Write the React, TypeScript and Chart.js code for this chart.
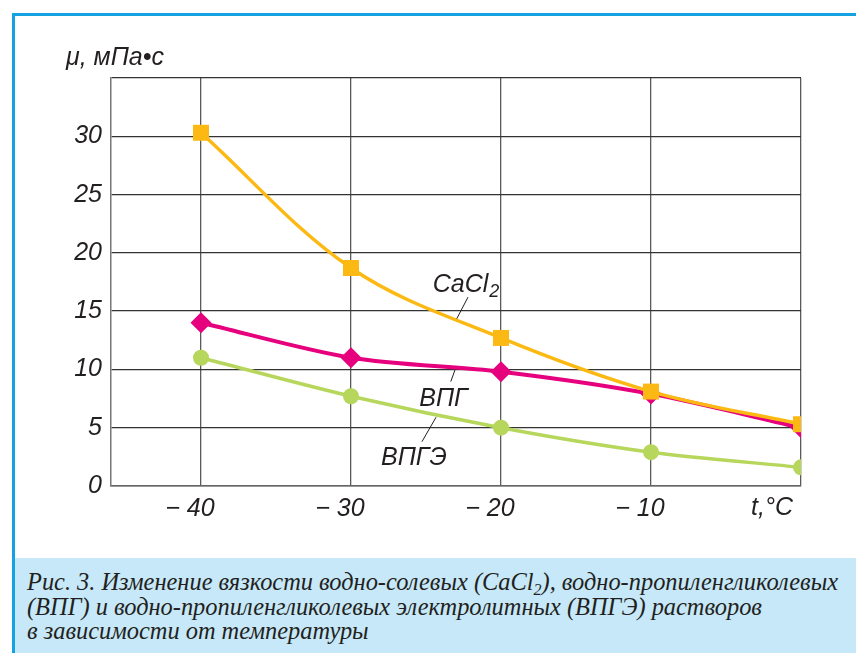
import React, { useEffect, useRef } from "react";
import { Chart, registerables } from "chart.js";

Chart.register(...registerables);

const temperatures = [-40, -30, -20, -10, 0];
const cacl2Values = [30.3, 18.7, 12.7, 8.1, 5.3];
const vpgValues = [14.0, 11.0, 9.8, 7.9, 5.0];
const vpgeValues = [11.0, 7.7, 5.0, 2.9, 1.6];

const xTicks = [-40, -30, -20, -10, 0];
const yTicks = [0, 5, 10, 15, 20, 25, 30, 35];

const yAxisTitle = "μ, мПа•с";
const xAxisTitle = "t,°C";

const seriesLabels = ["CaCl2", "ВПГ", "ВПГЭ"];

// annotation anchors in data units: text position and leader line ends
const annotations = [
  { main: "CaCl", sub: "2", tx: -24.55, ty: 16.6, l: [-22.2, 16.2, -22.95, 14.35] },
  { main: "ВПГ", sub: "", tx: -25.45, ty: 6.9, l: [-23.07, 9.95, -23.35, 8.95] },
  { main: "ВПГЭ", sub: "", tx: -28.0, ty: 1.8, l: [-24.33, 5.9, -25.27, 3.8] },
];

const ORANGE = "#fdb913";
const MAGENTA = "#e6007e";
const GREEN = "#b7d65c";

const LABEL_FONT = "'Liberation Sans', Arial, sans-serif";

const toXY = (ys: number[]) => temperatures.map((t, i) => ({ x: t, y: ys[i] }));

const annotationPlugin = {
  id: "annots",
  afterDraw(chart: any) {
    const { ctx, scales } = chart;
    const xs = scales.x;
    const ys = scales.y;
    ctx.save();
    ctx.fillStyle = "#231f20";
    ctx.strokeStyle = "#231f20";
    ctx.lineWidth = 1;
    for (const a of annotations) {
      ctx.beginPath();
      ctx.moveTo(xs.getPixelForValue(a.l[0]), ys.getPixelForValue(a.l[1]));
      ctx.lineTo(xs.getPixelForValue(a.l[2]), ys.getPixelForValue(a.l[3]));
      ctx.stroke();
      const px = xs.getPixelForValue(a.tx);
      const py = ys.getPixelForValue(a.ty);
      ctx.font = `italic 25px ${LABEL_FONT}`;
      ctx.textAlign = "left";
      ctx.textBaseline = "alphabetic";
      ctx.fillText(a.main, px, py);
      if (a.sub) {
        const w = ctx.measureText(a.main).width;
        ctx.font = `italic 18px ${LABEL_FONT}`;
        ctx.fillText(a.sub, px + w + 1, py + 5);
      }
    }
    // axis titles
    ctx.font = `italic 25px ${LABEL_FONT}`;
    ctx.textAlign = "left";
    ctx.fillText(yAxisTitle, 66, 65);
    ctx.fillText(xAxisTitle, 751, 515);
    ctx.restore();
  },
};

export default function App() {
  const ref = useRef<HTMLCanvasElement | null>(null);

  useEffect(() => {
    if (!ref.current) return;
    const chart = new Chart(ref.current, {
      type: "line",
      data: {
        datasets: [
          {
            label: seriesLabels[0],
            data: toXY(cacl2Values),
            borderColor: ORANGE,
            backgroundColor: ORANGE,
            borderWidth: 3.5,
            pointStyle: "rect",
            pointRadius: 11.3,
            pointBorderWidth: 0,
            tension: 0.35,
          },
          {
            label: seriesLabels[1],
            data: toXY(vpgValues),
            borderColor: MAGENTA,
            backgroundColor: MAGENTA,
            borderWidth: 4,
            pointStyle: "rectRot",
            pointRadius: 10.5,
            pointBorderWidth: 0,
            tension: 0.3,
          },
          {
            label: seriesLabels[2],
            data: toXY(vpgeValues),
            borderColor: GREEN,
            backgroundColor: GREEN,
            borderWidth: 3.5,
            pointStyle: "circle",
            pointRadius: 8,
            pointBorderWidth: 0,
            tension: 0.3,
          },
        ],
      },
      options: {
        responsive: false,
        animation: false,
        events: [],
        layout: { padding: { left: 0, top: 78, right: 55, bottom: 0 } },
        plugins: { legend: { display: false }, tooltip: { enabled: false } },
        scales: {
          x: {
            type: "linear",
            min: -46,
            max: 0,
            afterBuildTicks: (s: any) => {
              s.ticks = xTicks.map((v) => ({ value: v }));
            },
            afterFit: (s: any) => {
              s.height = 167;
            },
            grid: { color: "#5a5a5a", lineWidth: 1.3, drawTicks: false },
            border: { display: true, color: "#666", width: 1.5 },
            ticks: {
              padding: 8,
              labelOffset: -11,
              color: "#231f20",
              font: { family: LABEL_FONT, size: 25, style: "italic" },
              callback: (v: any) => (v === 0 ? "" : "− " + Math.abs(v)),
            },
          },
          y: {
            type: "linear",
            min: 0,
            max: 35,
            afterBuildTicks: (s: any) => {
              s.ticks = yTicks.map((v) => ({ value: v }));
            },
            afterFit: (s: any) => {
              s.width = 111;
            },
            grid: { color: "#333", lineWidth: 1.3, drawTicks: false },
            border: { display: true, color: "#777", width: 1.5 },
            ticks: {
              padding: 9,
              color: "#231f20",
              font: { family: LABEL_FONT, size: 25, style: "italic" },
              callback: (v: any) => (v === 35 ? "" : String(v)),
            },
          },
        },
      },
      plugins: [annotationPlugin],
    });
    return () => chart.destroy();
  }, []);

  return (
    <div
      style={{
        position: "fixed",
        left: 0,
        top: 0,
        width: 856,
        height: 653,
        background: "#fff",
        overflow: "hidden",
      }}
    >
      <div
        style={{
          position: "absolute",
          left: 12,
          top: 13,
          width: 900,
          height: 700,
          borderLeft: "3px solid #14a3e0",
          borderTop: "3px solid #14a3e0",
        }}
      />
      <div
        style={{
          position: "absolute",
          left: 15,
          top: 558,
          right: 0,
          bottom: 0,
          background: "#c6e8f8",
        }}
      >
        <div
          style={{
            position: "absolute",
            left: 12,
            top: 12,
            fontFamily: "'Liberation Serif', 'Times New Roman', serif",
            fontStyle: "italic",
            fontSize: 24.4,
            lineHeight: "24.5px",
            color: "#231f20",
            whiteSpace: "nowrap",
          }}
        >
          Рис. 3. Изменение вязкости водно-солевых (CaCl
          <sub style={{ fontSize: 16, verticalAlign: "-5px", lineHeight: 0 }}>2</sub>), водно-пропиленгликолевых
          <br />
          (ВПГ) и водно-пропиленгликолевых электролитных (ВПГЭ) растворов
          <br />в зависимости от температуры
        </div>
      </div>
      <canvas
        ref={ref}
        width={856}
        height={653}
        style={{ position: "absolute", left: 0, top: 0, width: 856, height: 653 }}
      />
    </div>
  );
}
